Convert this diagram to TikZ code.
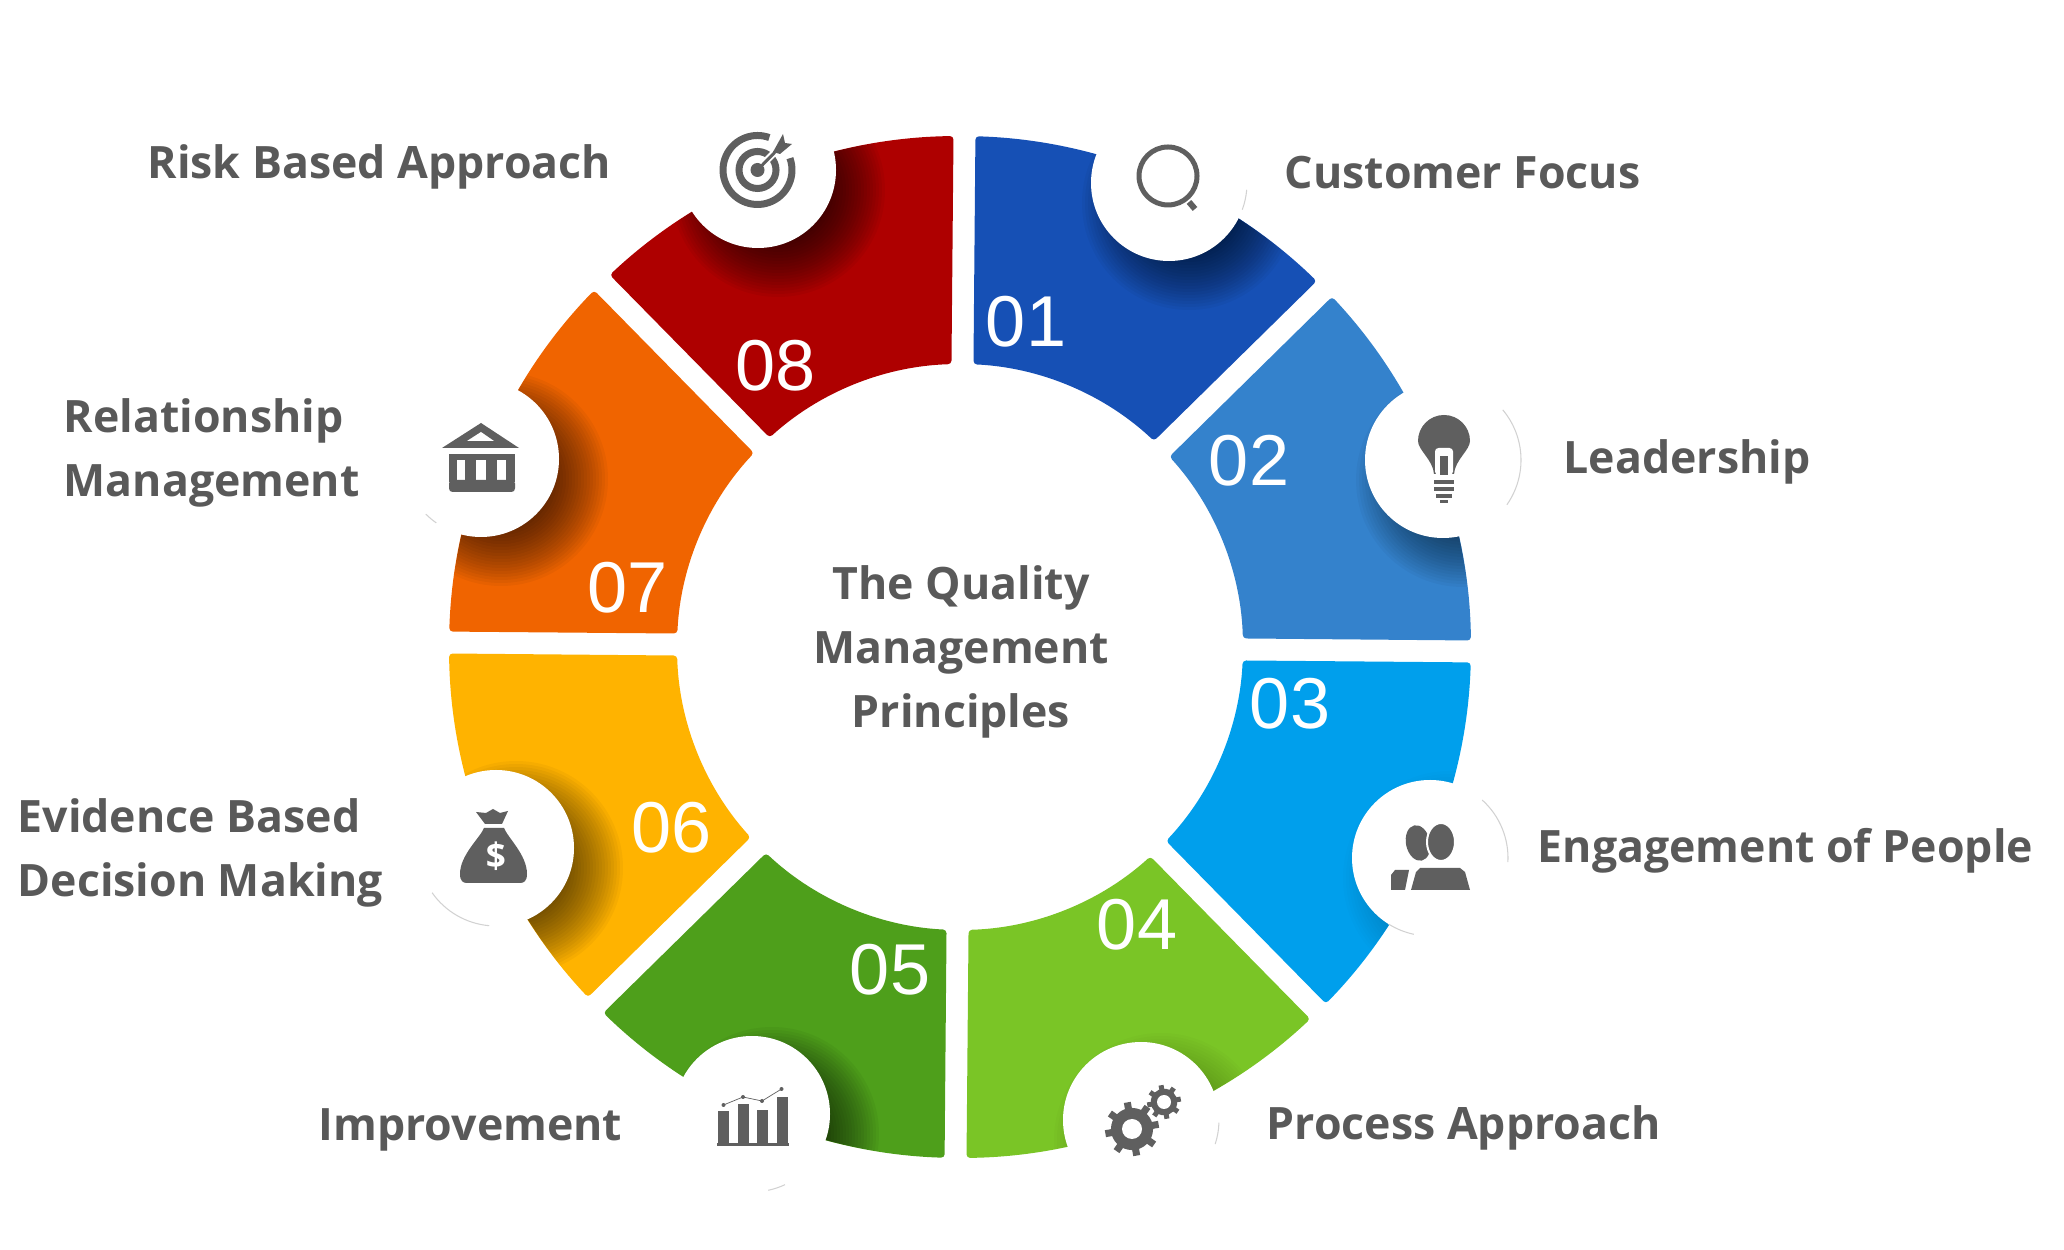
\documentclass[tikz,border=0pt]{standalone}
\usepackage{fontspec}
\setmainfont{Open Sans}
\newfontfamily\numfont{Liberation Sans}
\usetikzlibrary{positioning}
\definecolor{segone}{HTML}{1650B5}
\definecolor{segtwo}{HTML}{3482CC}
\definecolor{segthree}{HTML}{009FEC}
\definecolor{segfour}{HTML}{7AC526}
\definecolor{segfive}{HTML}{4E9F1B}
\definecolor{segsix}{HTML}{FFB300}
\definecolor{segseven}{HTML}{F06400}
\definecolor{segeight}{HTML}{AE0000}
\definecolor{icongray}{HTML}{5F5F5F}
\definecolor{labelgray}{HTML}{595959}
\tikzset{
  iconspot/.style = {circle, fill=white, inner sep=0pt, minimum size=1.56cm},
  segnum/.style = {text=white, font=\numfont\fontsize{20.5}{20.5}\selectfont, inner sep=0pt},
  seglabel/.style = {text=labelgray, anchor=west, align=left, inner sep=0pt, font=\bfseries\fontsize{12.7}{18.3}\selectfont},
  rim/.style = {gray!35, line width=.3pt},
  icon/.style = {fill=icongray, draw=none}
}
\newcommand{\segpath}[1]{([shift={(#1-1.23:5.11)}]ring) arc[start angle=#1-1.23, delta angle=-42.54, radius=5.11] -- ([shift={(#1-42.77:2.83)}]ring) arc[start angle=#1-42.77, delta angle=40.54, radius=2.83] -- cycle}
\newcommand{\ringpart}[4]{
  \fill[#2, rounded corners=1pt] \segpath{#1};
  \begin{scope}
    \clip \segpath{#1};
    \foreach \r in {0.50,0.53,...,1.07}
      \fill[black, opacity=#4] ([shift={(0.20,-0.20)}]#3) circle (\r);
  \end{scope}
}
\newcommand{\gearicon}[4]{
  \foreach \a in {0,45,...,315}
    \draw[icongray, line width=#4] (#1) -- ++(\a+10:#2);
  \fill[icongray] (#1) circle (#2*0.78);
  \fill[white] (#1) circle (#3);
}
\begin{document}
\begin{tikzpicture}
\useasboundingbox (0,0) rectangle (20.64,12.5);
\coordinate (ring) at (9.60,6.03);

\coordinate (c1) at (11.69,10.67);
\coordinate (c2) at (14.43,7.90);
\coordinate (c3) at (14.30,3.92);
\coordinate (c4) at (11.41,1.30);
\coordinate (c5) at (7.52,1.36);
\coordinate (c6) at (4.96,4.02);
\coordinate (c7) at (4.81,7.91);
\coordinate (c8) at (7.58,10.80);

\ringpart{89.5}{segone}{c1}{0.035}
\ringpart{44.5}{segtwo}{c2}{0.03}
\ringpart{-0.5}{segthree}{c3}{0.01}
\ringpart{-45.5}{segfour}{c4}{0.015}
\ringpart{-90.5}{segfive}{c5}{0.04}
\ringpart{-135.5}{segsix}{c6}{0.035}
\ringpart{-180.5}{segseven}{c7}{0.04}
\ringpart{134.5}{segeight}{c8}{0.045}

\node[iconspot] (spot1) at (c1) {};
\node[iconspot] (spot2) at (c2) {};
\node[iconspot] (spot3) at (c3) {};
\node[iconspot] (spot4) at (c4) {};
\node[iconspot] (spot5) at (c5) {};
\node[iconspot] (spot6) at (c6) {};
\node[iconspot] (spot7) at (c7) {};
\node[iconspot] (spot8) at (c8) {};

\draw[rim] ([shift={(-5:.78)}]c1) arc[start angle=-5, end angle=-20, radius=.78];
\draw[rim] ([shift={(40:.78)}]c2) arc[start angle=40, end angle=-35, radius=.78];
\draw[rim] ([shift={(48:.78)}]c3) arc[start angle=48, end angle=-3, radius=.78];
\draw[rim] ([shift={(-102:.78)}]c3) arc[start angle=-102, end angle=-122, radius=.78];
\draw[rim] ([shift={(-2:.78)}]c4) arc[start angle=-2, end angle=-18, radius=.78];
\draw[rim] ([shift={(-95:.78)}]c6) arc[start angle=-95, end angle=-145, radius=.78];
\draw[rim] ([shift={(-65:.78)}]c5) arc[start angle=-65, end angle=-78, radius=.78];
\draw[rim] ([shift={(225:.78)}]c7) arc[start angle=225, end angle=235, radius=.78];

\draw[icongray, line width=.05cm] (11.68,10.74) circle (.29);
\draw[icongray, line width=.06cm] (11.89,10.48) -- (11.95,10.41);

\fill[icon] (14.34,7.76) .. controls (14.33,7.90) and (14.18,8.00) .. (14.18,8.09) arc[start angle=180, end angle=0, radius=.26] .. controls (14.70,8.00) and (14.55,7.90) .. (14.54,7.76) -- cycle;
\fill[white, rounded corners=1pt] (14.35,7.75) rectangle (14.53,8.02);
\fill[icon] (14.40,7.75) rectangle (14.48,7.94);
\draw[icongray, line width=.04cm] (14.34,7.68) -- (14.54,7.68);
\draw[icongray, line width=.04cm] (14.34,7.61) -- (14.54,7.61);
\draw[icongray, line width=.04cm] (14.36,7.54) -- (14.52,7.54);
\draw[icongray, line width=.03cm] (14.40,7.48) -- (14.48,7.48);

\fill[icon, rotate around={12:(14.18,4.07)}] (14.18,4.07) ellipse (.12 and .18);
\draw[white, fill=icongray, line width=.02cm] (14.41,4.08) ellipse (.14 and .19);
\fill[icon] (13.91,3.60) -- (13.91,3.75) -- (13.95,3.80) -- (14.09,3.80) -- (14.05,3.60) -- cycle;
\fill[icon] (14.11,3.60) -- (14.16,3.78) -- (14.20,3.82) -- (14.60,3.82) -- (14.65,3.78) -- (14.70,3.60) -- cycle;

\gearicon{11.32,1.21}{.27}{.10}{.07cm}
\gearicon{11.64,1.48}{.17}{.07}{.05cm}

\fill[icon] (7.18,1.04) rectangle (7.29,1.39);
\fill[icon] (7.38,1.04) rectangle (7.49,1.46);
\fill[icon] (7.57,1.04) rectangle (7.68,1.40);
\fill[icon] (7.77,1.04) rectangle (7.88,1.53);
\fill[icon] (7.17,1.04) rectangle (7.89,1.07);
\draw[icongray, line width=.2pt] (7.235,1.45) -- (7.43,1.53) -- (7.62,1.49) -- (7.815,1.61);
\fill[icon] (7.235,1.45) circle (.02);
\fill[icon] (7.43,1.53) circle (.02);
\fill[icon] (7.62,1.49) circle (.02);
\fill[icon] (7.815,1.61) circle (.02);

\fill[icon] (4.60,3.76) .. controls (4.60,3.95) and (4.80,4.12) .. (4.84,4.22) -- (5.04,4.22) .. controls (5.08,4.12) and (5.27,3.95) .. (5.27,3.76) .. controls (5.27,3.69) and (5.24,3.67) .. (5.20,3.67) -- (4.67,3.67) .. controls (4.63,3.67) and (4.60,3.69) .. cycle;
\fill[icon] (4.76,4.38) -- (4.86,4.37) -- (4.93,4.41) -- (5.00,4.37) -- (5.08,4.39) -- (5.02,4.26) -- (4.85,4.26) -- cycle;
\node[text=white, font=\bfseries\fontsize{10}{10}\selectfont, inner sep=0pt] (dollar) at (4.96,3.94) {\$};

\fill[icon] (4.81,8.27) -- (5.19,8.02) -- (4.42,8.02) -- cycle;
\fill[white] (4.81,8.18) -- (4.94,8.09) -- (4.67,8.09) -- cycle;
\fill[icon] (4.49,7.68) rectangle (5.15,7.96);
\fill[white] (4.57,7.70) rectangle (4.65,7.90);
\fill[white] (4.76,7.70) rectangle (4.86,7.90);
\fill[white] (4.97,7.70) rectangle (5.06,7.90);
\fill[icon, rounded corners=1pt] (4.49,7.58) rectangle (5.15,7.70);

\draw[icongray, line width=.07cm] ([shift={(20:.345)}]7.575,10.80) arc[start angle=20, end angle=-290, radius=.345];
\draw[icongray, line width=.07cm] (7.575,10.80) circle (.185);
\fill[icon] (7.575,10.80) circle (.07);
\draw[white, line width=.07cm] (7.62,10.85) -- (7.79,11.02);
\draw[icongray, line width=.03cm] (7.575,10.80) -- (7.80,11.03);
\fill[icon] (7.73,10.98) -- (7.83,11.16) -- (7.85,11.07) -- (7.92,11.06) -- (7.80,10.96) -- cycle;

\node[segnum] (num1) at (10.26,9.28) {01};
\node[segnum] (num2) at (12.49,7.89) {02};
\node[segnum] (num3) at (12.90,5.46) {03};
\node[segnum] (num4) at (11.37,3.25) {04};
\node[segnum] (num5) at (8.90,2.80) {05};
\node[segnum] (num6) at (6.72,4.22) {06};
\node[segnum] (num7) at (6.28,6.62) {07};
\node[segnum] (num8) at (7.76,8.84) {08};

\node[seglabel] (focus) at (12.84,10.77) {Customer Focus};
\node[seglabel] (leader) at (15.63,7.88) {Leadership};
\node[seglabel] (people) at (15.37,3.99) {Engagement of People};
\node[seglabel] (process) at (12.66,1.22) {Process Approach};
\node[seglabel] (improve) at (3.18,1.20) {Improvement};
\node[seglabel] (evidence) at (0.17,3.97) {Evidence Based\\Decision Making};
\node[seglabel] (relation) at (0.63,7.97) {Relationship\\Management};
\node[seglabel] (risk) at (1.47,10.83) {Risk Based Approach};

\node[seglabel, anchor=center, align=center] (title) at (9.61,5.98) {The Quality\\Management\\Principles};
\end{tikzpicture}
\end{document}
